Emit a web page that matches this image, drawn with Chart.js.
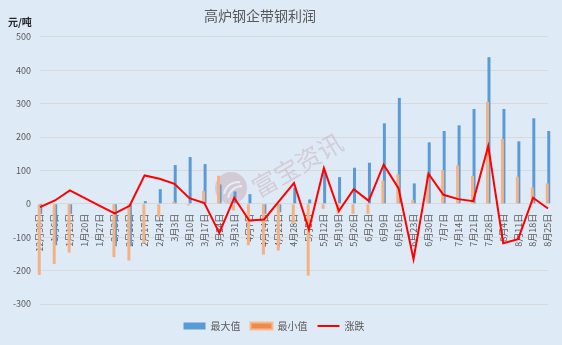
<!DOCTYPE html>
<html>
<head>
<meta charset="utf-8">
<script src="https://cdn.jsdelivr.net/npm/chart.js@4"></script>
<style>
  html, body { margin: 0; padding: 0; background: #DEEAF6; }
  #wrap { width: 562px; height: 345px; position: relative; }
</style>
</head>
<body>
<div id="wrap"><canvas id="c"></canvas></div>
<script>
const categories = ['12月30日','1月6日','1月13日','1月20日','1月27日','2月3日','2月10日','2月17日','2月24日','3月3日','3月10日','3月17日','3月24日','3月31日','4月7日','4月14日','4月21日','4月28日','5月5日','5月12日','5月19日','5月26日','6月2日','6月9日','6月16日','6月23日','6月30日','7月7日','7月14日','7月21日','7月28日','8月4日','8月11日','8月18日','8月25日'];
const maxValues = [-30,-124,-30,null,null,-127,-127,8,44,116,140,119,58,37,29,-30,-25,48,13,98,80,108,123,241,317,61,184,218,235,284,439,284,187,256,218];
const minValues = [-213,-180,-146,null,null,-160,-170,-118,-40,6,-5,38,84,-20,-124,-152,-140,-60,-215,-15,-30,-30,-30,69,88,12,88,101,115,83,305,194,81,49,61];
const changeValues = [-10,10,40,17,-6,-29,-6,85,75,60,17,2,-87,18,-50,-47,8,62,-77,107,-22,44,9,117,46,-166,90,27,14,8,173,-118,-106,18,-14];
const yTicks = [-300,-200,-100,0,100,200,300,400,500];
const seriesNames = ['最大值','最小值','涨跌'];
const titleText = '高炉钢企带钢利润';
const unitText = '元/吨';
const watermarkText = '富宝资讯';

const FONT = '"Noto Sans CJK SC", "Microsoft YaHei", sans-serif';

const extras = {
  id: 'extras',
  beforeDraw(chart) {
    const ctx = chart.ctx;
    ctx.save();
    ctx.fillStyle = '#DEEAF6';
    ctx.fillRect(0, 0, chart.width, chart.height);
    ctx.restore();
  },
  beforeDatasetsDraw(chart) {
    const ctx = chart.ctx;
    ctx.save();
    ctx.fillStyle = 'rgba(195,165,172,0.45)';
    ctx.beginPath();
    ctx.arc(231, 188, 16, 0, Math.PI * 2);
    ctx.fill();
    ctx.strokeStyle = 'rgba(235,240,248,0.9)';
    ctx.lineWidth = 2;
    ctx.beginPath();
    ctx.arc(238, 196, 14, Math.PI * 1.05, Math.PI * 1.55);
    ctx.stroke();
    ctx.beginPath();
    ctx.arc(242, 200, 14, Math.PI * 1.05, Math.PI * 1.5);
    ctx.stroke();
    ctx.translate(254, 190);
    ctx.rotate(-30 * Math.PI / 180);
    ctx.fillStyle = 'rgba(200,170,180,0.45)';
    ctx.font = '25px ' + FONT;
    ctx.textBaseline = 'middle';
    ctx.fillText(watermarkText, 0, 0);
    ctx.restore();
  },
  afterDraw(chart) {
    const ctx = chart.ctx;
    ctx.save();
    ctx.fillStyle = '#262626';
    ctx.font = 'bold 10px ' + FONT;
    ctx.textBaseline = 'middle';
    ctx.fillText(unitText, 8, 22);
    ctx.restore();
  }
};

new Chart(document.getElementById('c'), {
  type: 'bar',
  data: {
    labels: categories,
    datasets: [
      {
        type: 'line',
        label: seriesNames[2],
        data: changeValues,
        borderColor: '#FF0000',
        backgroundColor: '#FF0000',
        borderWidth: 2,
        pointRadius: 0,
        tension: 0,
        order: 0
      },
      {
        label: seriesNames[1],
        data: minValues,
        backgroundColor: '#F4B183',
        borderWidth: 0,
        categoryPercentage: 0.2,
        barPercentage: 2,
        clip: false,
        order: 1
      },
      {
        label: seriesNames[0],
        data: maxValues,
        backgroundColor: '#5B9BD5',
        borderWidth: 0,
        categoryPercentage: 0.2,
        barPercentage: 2,
        clip: false,
        order: 2
      }
    ]
  },
  options: {
    responsive: true,
    maintainAspectRatio: false,
    devicePixelRatio: 1,
    animation: false,
    layout: { padding: { left: 0, right: 14, top: 0, bottom: 4 } },
    scales: {
      x: {
        position: { y: 0 },
        offset: false,
        grid: { display: false },
        border: { display: false },
        ticks: {
          autoSkip: false,
          minRotation: 90,
          maxRotation: 90,
          padding: 2,
          color: '#595959',
          font: { size: 9, family: FONT }
        }
      },
      spacer: {
        type: 'category',
        axis: 'x',
        position: 'bottom',
        display: true,
        grid: { display: false, drawTicks: false },
        border: { display: false },
        ticks: { display: false },
        afterFit(scale) { scale.height = 7; }
      },
      y: {
        min: -300,
        max: 500,
        afterBuildTicks(scale) { scale.ticks = yTicks.map(v => ({ value: v })); },
        afterFit(scale) { scale.width = 40; },
        grid: { color: '#D9D9D9', lineWidth: 1, drawTicks: false },
        border: { display: false },
        ticks: {
          padding: 9,
          color: '#595959',
          font: { size: 9, family: FONT }
        }
      }
    },
    plugins: {
      title: {
        display: true,
        text: titleText + '\u3000\u3000',
        color: '#595959',
        font: { size: 14, weight: 'normal', family: FONT },
        padding: { top: 7, bottom: 13 }
      },
      legend: {
        position: 'bottom',
        labels: {
          usePointStyle: true,
          pointStyleWidth: 22,
          boxHeight: 7,
          padding: 10,
          color: '#595959',
          font: { size: 10, family: FONT },
          generateLabels(chart) {
            const ds = chart.data.datasets;
            const order = [2, 1, 0];
            return order.map(i => {
              const d = ds[i];
              const isLine = d.type === 'line';
              return {
                text: d.label,
                datasetIndex: i,
                fillStyle: isLine ? d.borderColor : (i === 1 ? '#F08A4B' : d.backgroundColor),
                strokeStyle: isLine ? d.borderColor : (i === 1 ? '#F7B98E' : d.backgroundColor),
                lineWidth: isLine ? 2 : (i === 1 ? 2 : 0),
                pointStyle: isLine ? 'line' : 'rect',
                fontColor: '#595959',
                hidden: false
              };
            });
          }
        }
      },
      tooltip: { enabled: false }
    }
  },
  plugins: [extras]
});
</script>
</body>
</html>
